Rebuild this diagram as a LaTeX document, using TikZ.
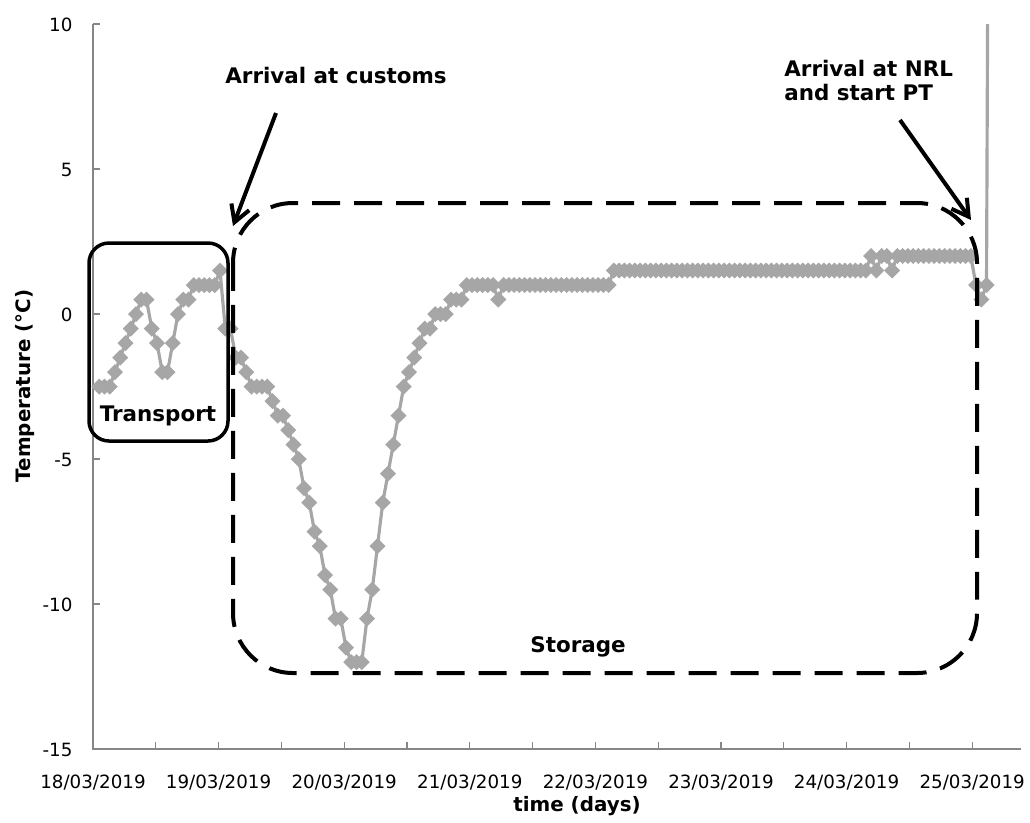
\documentclass[tikz,border=0pt]{standalone}
\usepackage{fontspec}
\setmainfont{DejaVu Sans}
\usetikzlibrary{arrows.meta}

\definecolor{axisgray}{HTML}{868686}
\definecolor{datagray}{HTML}{A6A6A6}

\tikzset{
  axisline/.style={axisgray,line width=0.6pt},
  templine/.style={datagray,line width=1.8pt,line join=round},
  ticklab/.style={inner sep=0pt,text=black,font=\fontsize{10.4pt}{12pt}\selectfont},
  axtitle/.style={inner sep=0pt,font=\fontsize{11.3pt}{13pt}\selectfont\bfseries},
  note/.style={inner sep=0pt,font=\fontsize{12.2pt}{13.6pt}\selectfont\bfseries},
  callout/.style={line width=0.08cm,-{Straight Barb[length=0.33cm,width=0.38cm]}},
  solidbox/.style={line width=0.07cm,rounded corners=0.4cm},
  dashbox/.style={line width=0.08cm,rounded corners=1.2cm,dash pattern=on 0.56cm off 0.28cm},
}

% hourly readings, first one at 18/03 ~01:00
\def\templist{-2.5,-2.5,-2.5,-2,-1.5,-1,-0.5,0,0.5,0.5,-0.5,-1,-2,-2,-1,0,0.5,0.5,1,1,1,1,1,1.5,%
-0.5,-0.5,-1.5,-1.5,-2,-2.5,-2.5,-2.5,-2.5,-3,-3.5,-3.5,-4,-4.5,-5,-6,-6.5,-7.5,-8,-9,-9.5,-10.5,-10.5,-11.5,-12,-12,-12,%
-10.5,-9.5,-8,-6.5,-5.5,-4.5,-3.5,-2.5,-2,-1.5,-1,-0.5,-0.5,0,0,0,0.5,0.5,0.5,1,1,1,1,1,1,0.5,%
1,1,1,1,1,1,1,1,1,1,1,1,1,1,1,1,1,1,1,1,1,%
1.5,1.5,1.5,1.5,1.5,1.5,1.5,1.5,1.5,1.5,1.5,1.5,1.5,1.5,1.5,1.5,1.5,1.5,1.5,1.5,%
1.5,1.5,1.5,1.5,1.5,1.5,1.5,1.5,1.5,1.5,1.5,1.5,1.5,1.5,1.5,1.5,1.5,1.5,1.5,1.5,%
1.5,1.5,1.5,1.5,1.5,1.5,1.5,1.5,1.5,%
2,1.5,2,2,1.5,%
2,2,2,2,2,2,2,2,2,2,2,2,2,2,2,%
1,0.5,1,45}

\begin{document}
\begin{tikzpicture}[x=0.02cm,y=-0.02cm]
\useasboundingbox (0,0) rectangle (1030,822);

% axes
\draw[axisline] (93,24) -- (93,749) -- (1021,749);
\foreach \y [count=\k] in {10,5,0,-5,-10,-15}
    \draw[axisline,shift={(93,{314-29*(\y)})}] (7,0) -- (0,0) node[ticklab,anchor=base east] (ylab\k) at (-20,7) {\y};
\foreach \x in {1,...,14}
    \draw[axisline,shift={({93+62.8*\x},749)}] (0,0) -- (0,-7);
\foreach \d/\dtext in {0/18,1/19,2/20,3/21,4/22,5/23,6/24,7/25}
    \node[ticklab,anchor=base] (xlab\d) at ({93+125.6*\d},788) {\dtext/03/2019};

\node[axtitle,anchor=base] (xtitle) at (577,811) {time (days)};
\node[axtitle,anchor=base,rotate=90] (ytitle) at (31,386) {Temperature (°C)};

% temperature series
\begin{scope}
\clip (86,24) rectangle (1021,749);
\draw[templine] (99.25,{314-29*(-2.5)}) \foreach \t [count=\i from 0] in \templist { -- ({99.25+5.25*\i},{314-29*(\t)}) };
\foreach \t [count=\i from 0] in \templist
    \fill[datagray,shift={({99.25+5.25*\i},{314-29*(\t)})}] (-8,0) -- (0,-8) -- (8,0) -- (0,8) -- cycle;
\end{scope}

% phases
\draw[solidbox] (89,243) rectangle (228,441);
\draw[dashbox] (233,203) rectangle (977,673);
\node[note,anchor=base] (transport) at (158,421) {Transport};
\node[note,anchor=base] (storage) at (578,652) {Storage};

% events
\node[note,anchor=base west] (customs) at (225,83) {Arrival at customs};
\coordinate (custail) at (276,113);
\coordinate (custip) at (233,226);
\draw[callout] (custail) -- (custip);

\node[note,anchor=north west,align=left] (nrl) at (784,60) {Arrival at NRL\\and start PT};
\coordinate (nrltail) at (900,120);
\coordinate (nrltip) at (971,220);
\draw[callout] (nrltail) -- (nrltip);
\end{tikzpicture}
\end{document}
